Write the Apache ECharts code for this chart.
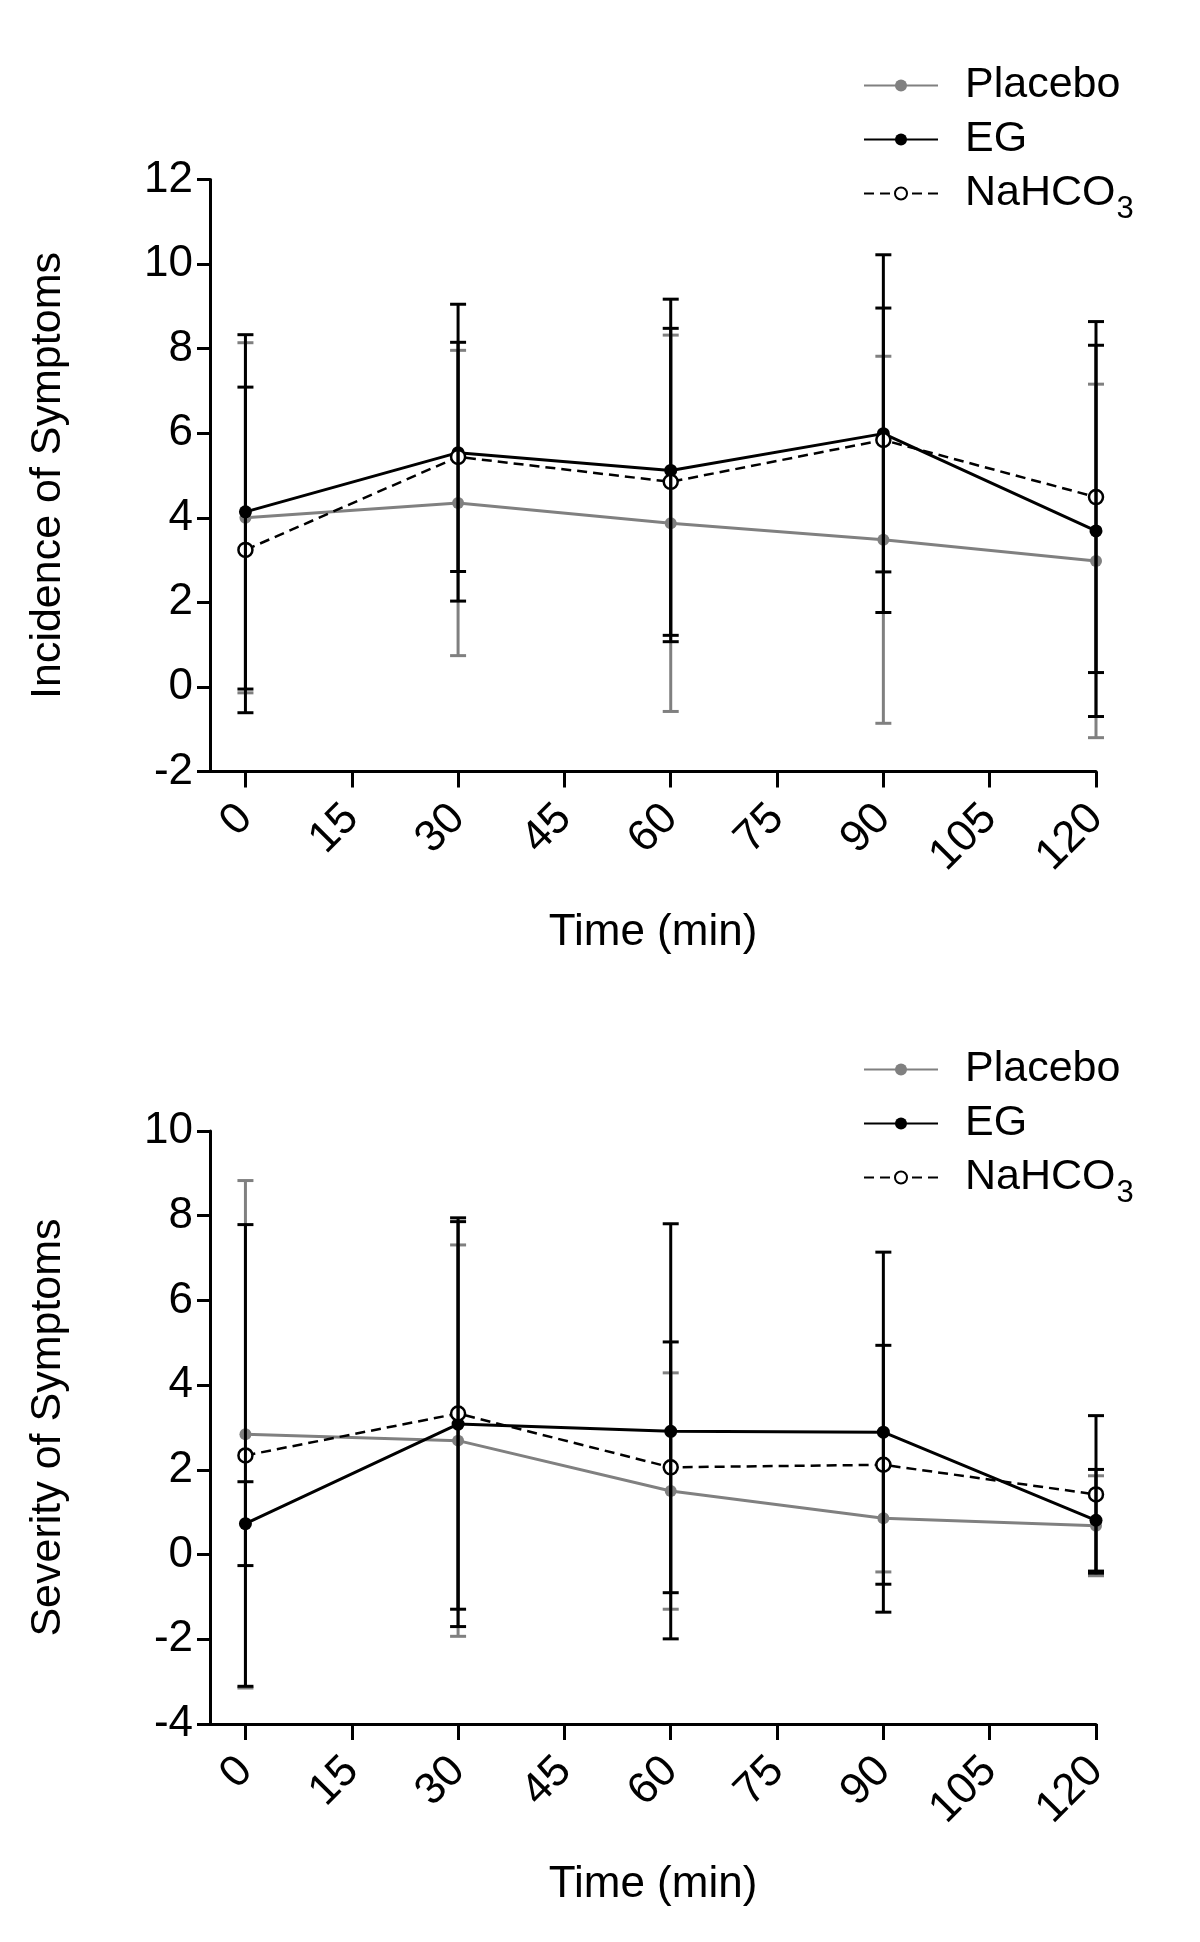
<!DOCTYPE html>
<html><head><meta charset="utf-8">
<script src="https://cdn.jsdelivr.net/npm/echarts@6/dist/echarts.min.js"></script>
<style>html,body{margin:0;padding:0;background:#fff}#c{width:1200px;height:1942px}</style>
</head><body><div id="c"></div><script>
// ---- data ----
const times = [0, 30, 60, 90, 120];
const xTickValues = [0, 15, 30, 45, 60, 75, 90, 105, 120];
const seriesNames = ['Placebo', 'EG', 'NaHCO3'];

// Incidence of Symptoms (mean, SD)
const incPlacebo = [4.00, 4.35, 3.87, 3.48, 2.98];
const incPlaceboSD = [4.14, 3.61, 4.45, 4.34, 4.18];
const incEG = [4.14, 5.54, 5.12, 5.99, 3.69];
const incEGSD = [4.19, 3.51, 4.05, 4.23, 4.39];
const incNa = [3.24, 5.44, 4.85, 5.84, 4.49];
const incNaSD = [3.85, 2.71, 3.63, 3.12, 4.15];

// Severity of Symptoms (mean, SD)
const sevPlacebo = [2.84, 2.69, 1.50, 0.86, 0.68];
const sevPlaceboSD = [5.99, 4.62, 2.79, 1.27, 1.18];
const sevEG = [0.73, 3.08, 2.91, 2.89, 0.81];
const sevEGSD = [0.99, 4.78, 4.90, 4.25, 1.20];
const sevNa = [2.34, 3.33, 2.06, 2.12, 1.42];
const sevNaSD = [5.45, 4.62, 2.96, 2.82, 1.86];

// ---- styles ----
const FONT = 'Liberation Sans, Arial, sans-serif';
const GRAY = '#808080';
const BLACK = '#000000';

const chart = echarts.init(document.getElementById('c'), null, {renderer: 'canvas'});

function pts(mean) { return times.map((t, i) => [t, mean[i]]); }
function errs(mean, sd) { return times.map((t, i) => [t, mean[i] - sd[i], mean[i] + sd[i]]); }

function errRender(color, width, capHalf) {
  return function (params, api) {
    const x = api.value(0), lo = api.value(1), hi = api.value(2);
    const pLo = api.coord([x, lo]), pHi = api.coord([x, hi]);
    const style = {stroke: color, lineWidth: width, fill: null};
    return {type: 'group', children: [
      {type: 'line', shape: {x1: pLo[0], y1: pLo[1], x2: pHi[0], y2: pHi[1]}, style: style},
      {type: 'line', shape: {x1: pLo[0] - capHalf, y1: pLo[1], x2: pLo[0] + capHalf, y2: pLo[1]}, style: style},
      {type: 'line', shape: {x1: pHi[0] - capHalf, y1: pHi[1], x2: pHi[0] + capHalf, y2: pHi[1]}, style: style}
    ]};
  };
}

function xAxisCfg(gridIndex) {
  return {
    type: 'value', gridIndex: gridIndex, min: -5, max: 120,
    name: 'Time (min)', nameLocation: 'middle', nameGap: 139,
    nameTextStyle: {fontSize: 44, fontFamily: FONT, color: BLACK},
    axisLine: {show: true, onZero: false, lineStyle: {color: BLACK, width: 3}},
    axisTick: {show: true, length: 16, lineStyle: {color: BLACK, width: 3}, customValues: xTickValues},
    axisLabel: {rotate: 45, margin: 40, fontSize: 44, fontFamily: FONT, color: BLACK, customValues: xTickValues},
    splitLine: {show: false}
  };
}
function yAxisCfg(gridIndex, name, min, max) {
  return {
    type: 'value', gridIndex: gridIndex, min: min, max: max, interval: 2,
    name: name, nameLocation: 'middle', nameRotate: 90, nameGap: 140,
    nameTextStyle: {fontSize: 43, fontFamily: FONT, color: BLACK},
    axisLine: {show: true, onZero: false, lineStyle: {color: BLACK, width: 3}},
    axisTick: {show: true, length: 13, lineStyle: {color: BLACK, width: 3}},
    axisLabel: {margin: 17, fontSize: 44, fontFamily: FONT, color: BLACK},
    splitLine: {show: false}
  };
}

function lineSeries(name, data, idx, opts) {
  return Object.assign({
    type: 'line', name: name, data: pts(data), xAxisIndex: idx, yAxisIndex: idx,
    animation: false, silent: true
  }, opts);
}
function errSeries(name, mean, sd, idx, color, width, z) {
  return {
    type: 'custom', name: name, data: errs(mean, sd), xAxisIndex: idx, yAxisIndex: idx,
    encode: {x: 0, y: [1, 2]}, renderItem: errRender(color, width, 8), z: z,
    animation: false, silent: true
  };
}

function seriesFor(idx, pl, plSD, eg, egSD, na, naSD) {
  return [
    lineSeries('Placebo', pl, idx, {
      z: 2, symbol: 'circle', symbolSize: 12,
      lineStyle: {color: GRAY, width: 3}, itemStyle: {color: GRAY}
    }),
    errSeries('Placebo SD', pl, plSD, idx, GRAY, 3, 3),
    lineSeries('EG', eg, idx, {
      z: 4, symbol: 'circle', symbolSize: 13,
      lineStyle: {color: BLACK, width: 3}, itemStyle: {color: BLACK}
    }),
    lineSeries('NaHCO3', na, idx, {
      z: 4, symbol: 'circle', symbolSize: 14,
      lineStyle: {color: BLACK, width: 2.5, type: [10, 6]},
      itemStyle: {color: '#ffffff', borderColor: BLACK, borderWidth: 2.5}
    }),
    errSeries('EG SD', eg, egSD, idx, BLACK, 3, 5),
    errSeries('NaHCO3 SD', na, naSD, idx, BLACK, 3, 5)
  ];
}

function legendCfg(top) {
  return {
    orient: 'vertical', left: 863, top: top, padding: 0,
    itemWidth: 74, itemHeight: 15, itemGap: 11,
    data: seriesNames, selectedMode: false,
    formatter: function (n) { return n === 'NaHCO3' ? '{n|NaHCO}{b|3}' : '{a|' + n + '}'; },
    textStyle: {
      fontSize: 43, fontFamily: FONT, color: BLACK, padding: [0, 0, 0, 22],
      rich: {
        a: {fontSize: 43, fontFamily: FONT, color: BLACK},
        n: {fontSize: 43, lineHeight: 43, fontFamily: FONT, color: BLACK, verticalAlign: 'top'},
        b: {fontSize: 31, lineHeight: 31, fontFamily: FONT, color: BLACK, verticalAlign: 'top', padding: [22, 0, 0, 1]}
      }
    }
  };
}

chart.setOption({
  backgroundColor: '#ffffff',
  animation: false,
  grid: [
    {left: 210, right: 104, top: 179.5, height: 592, containLabel: false},
    {left: 210, right: 104, top: 1131, height: 593, containLabel: false}
  ],
  legend: [legendCfg(64), legendCfg(1048)],
  xAxis: [xAxisCfg(0), xAxisCfg(1)],
  yAxis: [yAxisCfg(0, 'Incidence of Symptoms', -2, 12), yAxisCfg(1, 'Severity of Symptoms', -4, 10)],
  series: [].concat(
    seriesFor(0, incPlacebo, incPlaceboSD, incEG, incEGSD, incNa, incNaSD),
    seriesFor(1, sevPlacebo, sevPlaceboSD, sevEG, sevEGSD, sevNa, sevNaSD)
  )
});
</script></body></html>
